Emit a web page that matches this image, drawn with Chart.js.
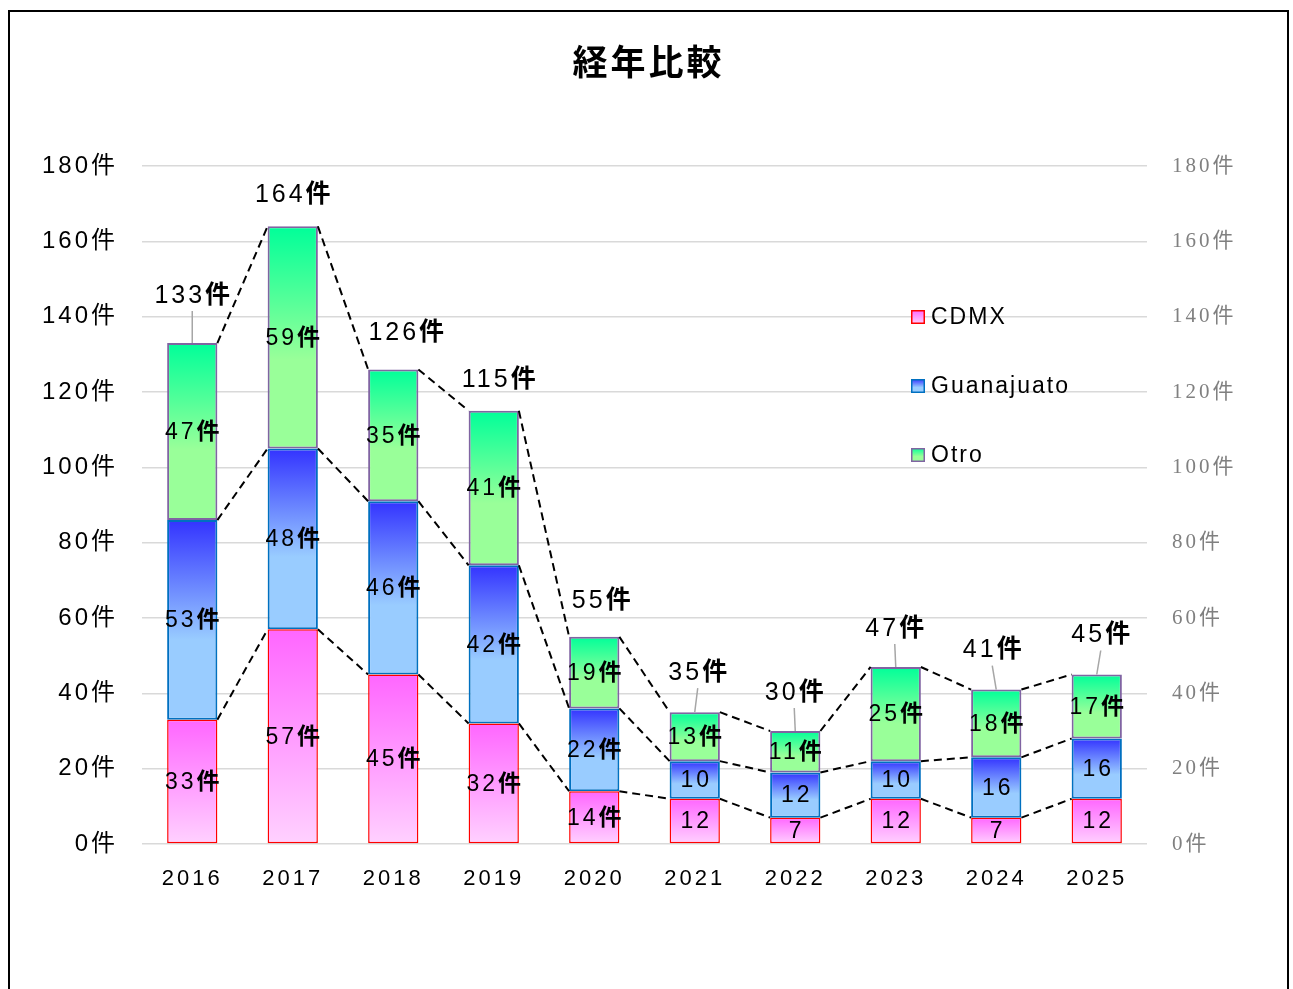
<!DOCTYPE html>
<html>
<head>
<meta charset="utf-8">
<script src="https://cdn.jsdelivr.net/npm/chart.js@4.4.1/dist/chart.umd.min.js"></script>
<style>
  html, body { margin: 0; padding: 0; background: #fff; overflow: hidden; }
  #box { position: absolute; left: 8px; top: 10px; width: 1277px; height: 995px; border: 2px solid #000; border-bottom: none; }
  canvas { display: block; }
</style>
</head>
<body>
<div id="box"><canvas id="chart" width="1277" height="977"></canvas></div>
<script>
// data
var years = ['2016', '2017', '2018', '2019', '2020', '2021', '2022', '2023', '2024', '2025'];
var cdmx = [33, 57, 45, 32, 14, 12, 7, 12, 7, 12];
var guanajuato = [53, 48, 46, 42, 22, 10, 12, 10, 16, 16];
var otro = [47, 59, 35, 41, 19, 13, 11, 25, 18, 17];
var yTicks = [0, 20, 40, 60, 80, 100, 120, 140, 160, 180];

// where the total labels sit relative to the bar top (px), like the moved labels in the original
var totalShiftX = [0, 0, 13, 5, 7, 3, -1, -1, -4, 4];
var totalLift = [47, 31, 36, 31, 36, 39, 38, 38, 39, 39];

var FONT = '"Liberation Sans", Arial, "Noto Sans CJK JP", sans-serif';
var SERIF = '"Liberation Serif", "DejaVu Serif", "Noto Sans CJK JP", serif';

function gradFill(stops) {
  return function (c) {
    var chart = c.chart;
    if (!chart.chartArea || c.type !== 'data') return stops[0][1];
    var y = chart.scales.y;
    var i = c.dataIndex, d = c.datasetIndex;
    var base = 0;
    for (var k = 0; k < d; k++) base += chart.data.datasets[k].data[i];
    var v = chart.data.datasets[d].data[i];
    var g = chart.ctx.createLinearGradient(0, y.getPixelForValue(base + v), 0, y.getPixelForValue(base));
    stops.forEach(function (s) { g.addColorStop(s[0], s[1]); });
    return g;
  };
}

var pinkStops = [[0, '#ff66ff'], [1, '#ffd1ff']];
var blueStops = [[0, '#3333ff'], [0.6, '#99ccff'], [1, '#99ccff']];
var greenStops = [[0, '#00ff99'], [0.6, '#99ff99'], [1, '#99ff99']];

function spacing(chart) { chart.ctx.letterSpacing = '3px'; }

// number in regular weight, 件 a bit heavier, centred on (cx, cy)
function drawLabel(ctx, num, unit, cx, cy, size) {
  ctx.font = size + 'px ' + FONT;
  var w1 = ctx.measureText(num).width;
  ctx.font = 'bold ' + size + 'px ' + FONT;
  var w2 = unit ? ctx.measureText(unit).width : 0;
  var x = cx - (w1 + w2 - 3) / 2;
  ctx.textAlign = 'left';
  ctx.font = size + 'px ' + FONT;
  ctx.fillText(num, x, cy);
  if (unit) {
    ctx.font = 'bold ' + size + 'px ' + FONT;
    ctx.fillText(unit, x + w1, cy);
  }
}

var overlay = {
  id: 'overlay',
  afterInit: spacing,
  beforeUpdate: spacing,
  beforeDraw: spacing,
  afterDatasetsDraw: function (chart) {
    var ctx = chart.ctx;
    var metas = chart.data.datasets.map(function (d, i) { return chart.getDatasetMeta(i); });
    ctx.save();
    // dashed lines between the tops of each series
    ctx.setLineDash([8, 5]);
    ctx.lineWidth = 2;
    ctx.strokeStyle = '#000';
    metas.forEach(function (meta) {
      for (var i = 0; i < meta.data.length - 1; i++) {
        var a = meta.data[i], b = meta.data[i + 1];
        ctx.beginPath();
        ctx.moveTo(a.x + a.width / 2, a.y);
        ctx.lineTo(b.x - b.width / 2, b.y);
        ctx.stroke();
      }
    });
    ctx.setLineDash([]);

    // value labels inside the segments
    ctx.fillStyle = '#000';
    ctx.textBaseline = 'middle';
    ctx.letterSpacing = '3px';
    metas.forEach(function (meta, d) {
      meta.data.forEach(function (bar, i) {
        var v = chart.data.datasets[d].data[i];
        var total = cdmx[i] + guanajuato[i] + otro[i];
        var unit = (total >= 50 || d === 2) ? '件' : '';
        drawLabel(ctx, String(v), unit, bar.x, (bar.y + bar.base) / 2 + 1, 23);
      });
    });

    // totals with leader lines
    var top = metas[2];
    top.data.forEach(function (bar, i) {
      var total = cdmx[i] + guanajuato[i] + otro[i];
      var lx = bar.x + totalShiftX[i];
      var ly = bar.y - totalLift[i];
      if (totalLift[i] >= 37) {
        ctx.strokeStyle = '#a6a6a6';
        ctx.lineWidth = 1.5;
        ctx.beginPath();
        ctx.moveTo(bar.x, bar.y);
        ctx.lineTo(lx, ly + 15);
        ctx.stroke();
      }
      drawLabel(ctx, String(total), '件', lx, ly, 25);
    });
    ctx.restore();
  },
  afterDraw: function (chart) {
    // legend inside the plot area
    var ctx = chart.ctx;
    var items = [
      { label: 'CDMX', stops: pinkStops, border: '#ff0000', y: 305 },
      { label: 'Guanajuato', stops: blueStops, border: '#0070c0', y: 374 },
      { label: 'Otro', stops: greenStops, border: '#8064a2', y: 443 }
    ];
    ctx.save();
    ctx.letterSpacing = '2px';
    ctx.font = '23px ' + FONT;
    ctx.textAlign = 'left';
    ctx.textBaseline = 'middle';
    items.forEach(function (it) {
      var g = ctx.createLinearGradient(0, it.y - 7, 0, it.y + 7);
      it.stops.forEach(function (s) { g.addColorStop(s[0], s[1]); });
      ctx.fillStyle = g;
      ctx.fillRect(901, it.y - 7, 14, 14);
      ctx.strokeStyle = it.border;
      ctx.lineWidth = 1.5;
      ctx.strokeRect(901.75, it.y - 6.25, 12.5, 12.5);
      ctx.fillStyle = '#000';
      ctx.fillText(it.label, 921, it.y + 1);
    });
    ctx.restore();
  }
};

new Chart(document.getElementById('chart'), {
  type: 'bar',
  data: {
    labels: years,
    datasets: [
      { label: 'CDMX', data: cdmx, backgroundColor: gradFill(pinkStops), borderColor: '#ff0000', borderWidth: 1.5 },
      { label: 'Guanajuato', data: guanajuato, backgroundColor: gradFill(blueStops), borderColor: '#0070c0', borderWidth: 2 },
      { label: 'Otro', data: otro, backgroundColor: gradFill(greenStops), borderColor: '#8064a2', borderWidth: 2 }
    ]
  },
  options: {
    responsive: false,
    animation: false,
    events: [],
    layout: { padding: 0 },
    datasets: { bar: { barPercentage: 0.5, categoryPercentage: 1, borderSkipped: false } },
    plugins: {
      legend: { display: false },
      tooltip: { enabled: false },
      title: {
        display: true,
        text: '経年比較',
        color: '#000',
        font: { family: '"Noto Sans CJK JP", sans-serif', size: 35, weight: 'bold' },
        padding: { top: 29, bottom: 83 }
      }
    },
    scales: {
      x: {
        stacked: true,
        grid: { display: false, drawTicks: false },
        border: { display: false },
        ticks: { color: '#000', padding: 22, font: { family: FONT, size: 22 } },
        afterFit: function (s) { s.height = 145; }
      },
      y: {
        stacked: true,
        min: yTicks[0],
        max: yTicks[yTicks.length - 1],
        grid: { color: '#d9d9d9', lineWidth: 1.5, drawTicks: false },
        border: { display: false },
        ticks: {
          stepSize: 20, color: '#000', padding: 24,
          font: { family: FONT, size: 24 },
          callback: function (v) { return v + '件'; }
        },
        afterFit: function (s) { s.width = 132; }
      },
      y2: {
        type: 'linear',
        display: true,
        position: 'right',
        min: yTicks[0],
        max: yTicks[yTicks.length - 1],
        grid: { drawOnChartArea: false, drawTicks: false },
        border: { display: false },
        ticks: {
          stepSize: 20, color: '#808080', padding: 25,
          font: { family: SERIF, size: 21 },
          callback: function (v) { return v + '件'; }
        },
        afterFit: function (s) { s.width = 140; }
      }
    }
  },
  plugins: [overlay]
});
</script>
</body>
</html>
